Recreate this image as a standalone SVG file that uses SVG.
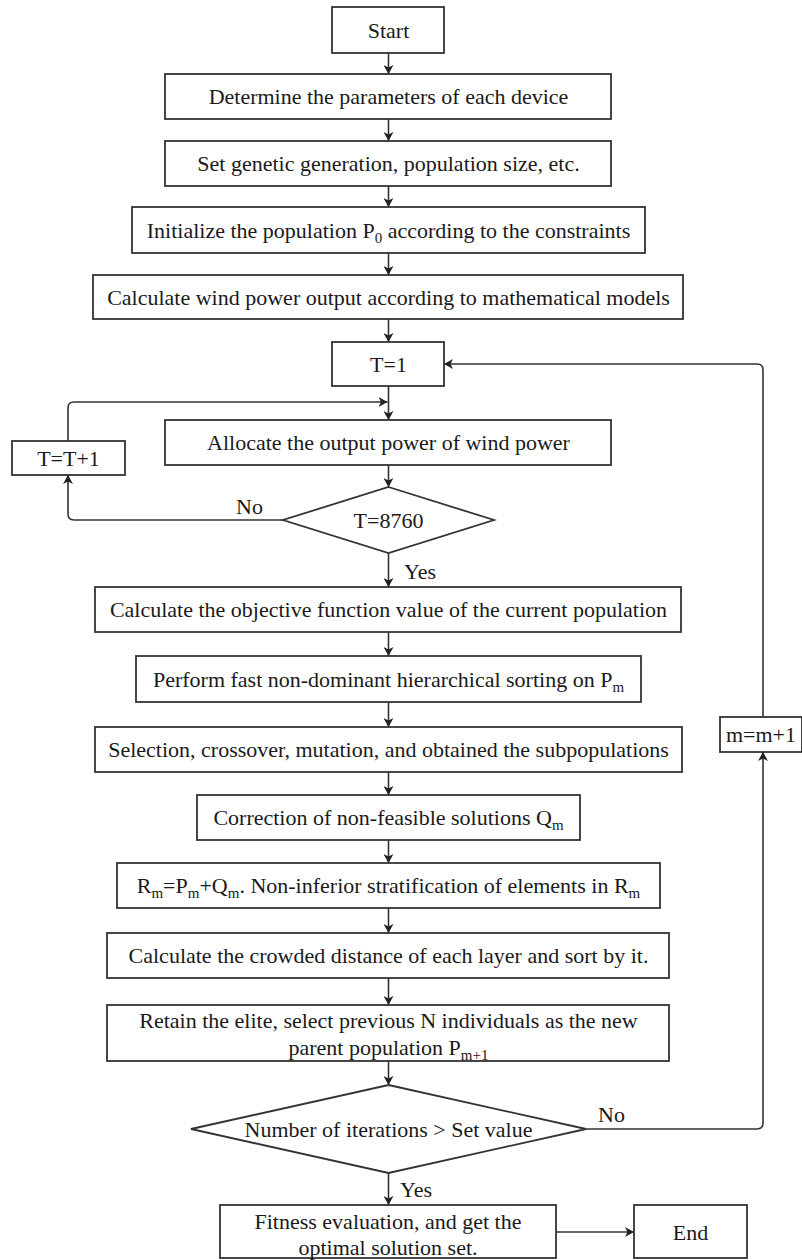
<svg xmlns="http://www.w3.org/2000/svg" width="802" height="1260" viewBox="0 0 802 1260">
<style>
.box{fill:#fff;stroke:#333;stroke-width:1.8}
.t{font-family:"Liberation Serif","Times New Roman",serif;font-size:22px;fill:#1a1a1a;text-anchor:middle}
.l{font-family:"Liberation Serif","Times New Roman",serif;font-size:22px;fill:#1a1a1a}
.s{font-size:15px}
.c{fill:none;stroke:#333;stroke-width:1.6;marker-end:url(#ah)}
</style>
<defs>
<marker id="ah" markerUnits="userSpaceOnUse" markerWidth="10" markerHeight="10" refX="9" refY="5" orient="auto">
<path d="M0,0 L9,5 L0,10 L2.5,5 z" fill="#222"/>
</marker>
</defs>
<rect width="802" height="1260" fill="#fff"/>
<g id="connectors">
<path class="c" d="M388.5,53 V74"/>
<path class="c" d="M388.5,119 V141"/>
<path class="c" d="M388.5,186 V207"/>
<path class="c" d="M388.5,253 V275"/>
<path class="c" d="M388.5,319 V342"/>
<path class="c" d="M388.5,386 V420"/>
<path class="c" d="M68,441 V408 Q68,402 74,402 H387.5"/>
<path class="c" d="M388.5,465 V487"/>
<path class="c" d="M283,520 H74 Q68,520 68,514 V475"/>
<path class="c" d="M388.5,553 V587"/>
<path class="c" d="M388.5,632 V656"/>
<path class="c" d="M388.5,702 V727"/>
<path class="c" d="M388.5,772 V795"/>
<path class="c" d="M388.5,840 V863"/>
<path class="c" d="M388.5,908 V933"/>
<path class="c" d="M388.5,978 V1005"/>
<path class="c" d="M388.5,1061 V1085"/>
<path class="c" d="M388.5,1173 V1205"/>
<path class="c" d="M586,1129 H757 Q763,1129 763,1123 V752"/>
<path class="c" d="M763,717 V370 Q763,364 757,364 H444"/>
<path class="c" d="M556,1232 H634"/>
<text class="l" x="236" y="514">No</text>
<text class="l" x="404" y="579">Yes</text>
<text class="l" x="598" y="1122">No</text>
<text class="l" x="400" y="1197">Yes</text>
</g>
<g id="start"><rect class="box" x="332" y="7" width="112" height="46"/><text class="t" x="388.5" y="37.5">Start</text></g>
<g id="determine"><rect class="box" x="165" y="74" width="446" height="45"/><text class="t" x="388.5" y="104">Determine the parameters of each device</text></g>
<g id="setgen"><rect class="box" x="165" y="141" width="446" height="45"/><text class="t" x="388.5" y="171">Set genetic generation, population size, etc.</text></g>
<g id="init"><rect class="box" x="132" y="207" width="513" height="46"/><text class="t" x="388.5" y="237.5">Initialize the population P<tspan class="s" dy="5">0</tspan><tspan dy="-5"> according to the constraints</tspan></text></g>
<g id="windcalc"><rect class="box" x="93" y="275" width="590" height="44"/><text class="t" x="388.5" y="304.5">Calculate wind power output according to mathematical models</text></g>
<g id="t1"><rect class="box" x="332" y="342" width="112" height="44"/><text class="t" x="388.5" y="371.5">T=1</text></g>
<g id="allocate"><rect class="box" x="165" y="420" width="446" height="45"/><text class="t" x="388.5" y="450">Allocate the output power of wind power</text></g>
<g id="tinc"><rect class="box" x="12" y="441" width="113" height="34"/><text class="t" x="68.5" y="465.5">T=T+1</text></g>
<g id="d8760"><polygon class="box" points="388.5,487 494,520 388.5,553 283,520"/><text class="t" x="388.5" y="527.5">T=8760</text></g>
<g id="objective"><rect class="box" x="95" y="587" width="586" height="45"/><text class="t" x="388.5" y="617">Calculate the objective function value of the current population</text></g>
<g id="sorting"><rect class="box" x="136" y="656" width="505" height="46"/><text class="t" x="388.5" y="686.5">Perform fast non-dominant hierarchical sorting on P<tspan class="s" dy="5">m</tspan></text></g>
<g id="selection"><rect class="box" x="95" y="727" width="587" height="45"/><text class="t" x="388.5" y="757">Selection, crossover, mutation, and obtained the subpopulations</text></g>
<g id="minc"><rect class="box" x="720" y="717" width="82" height="35"/><text class="t" x="761" y="742">m=m+1</text></g>
<g id="correction"><rect class="box" x="197" y="795" width="383" height="45"/><text class="t" x="388.5" y="825">Correction of non-feasible solutions Q<tspan class="s" dy="5">m</tspan></text></g>
<g id="rm"><rect class="box" x="117" y="863" width="543" height="45"/><text class="t" x="388.5" y="893">R<tspan class="s" dy="5">m</tspan><tspan dy="-5">=P</tspan><tspan class="s" dy="5">m</tspan><tspan dy="-5">+Q</tspan><tspan class="s" dy="5">m</tspan><tspan dy="-5">. Non-inferior stratification of elements in R</tspan><tspan class="s" dy="5">m</tspan></text></g>
<g id="crowded"><rect class="box" x="107" y="933" width="562" height="45"/><text class="t" x="388.5" y="963">Calculate the crowded distance of each layer and sort by it.</text></g>
<g id="retain"><rect class="box" x="107" y="1005" width="562" height="56"/><text class="t" x="388.5" y="1027.5">Retain the elite, select previous N individuals as the new</text><text class="t" x="388.5" y="1054.5">parent population P<tspan class="s" dy="5">m+1</tspan></text></g>
<g id="diter"><polygon class="box" points="388.5,1085 586,1129 388.5,1173 191,1129"/><text class="t" x="388.5" y="1136.5">Number of iterations &gt; Set value</text></g>
<g id="fitness"><rect class="box" x="220" y="1205" width="336" height="53"/><text class="t" x="388" y="1229">Fitness evaluation, and get the</text><text class="t" x="388" y="1255">optimal solution set.</text></g>
<g id="end"><rect class="box" x="634" y="1205" width="113" height="53"/><text class="t" x="690.5" y="1239.5">End</text></g>
</svg>
